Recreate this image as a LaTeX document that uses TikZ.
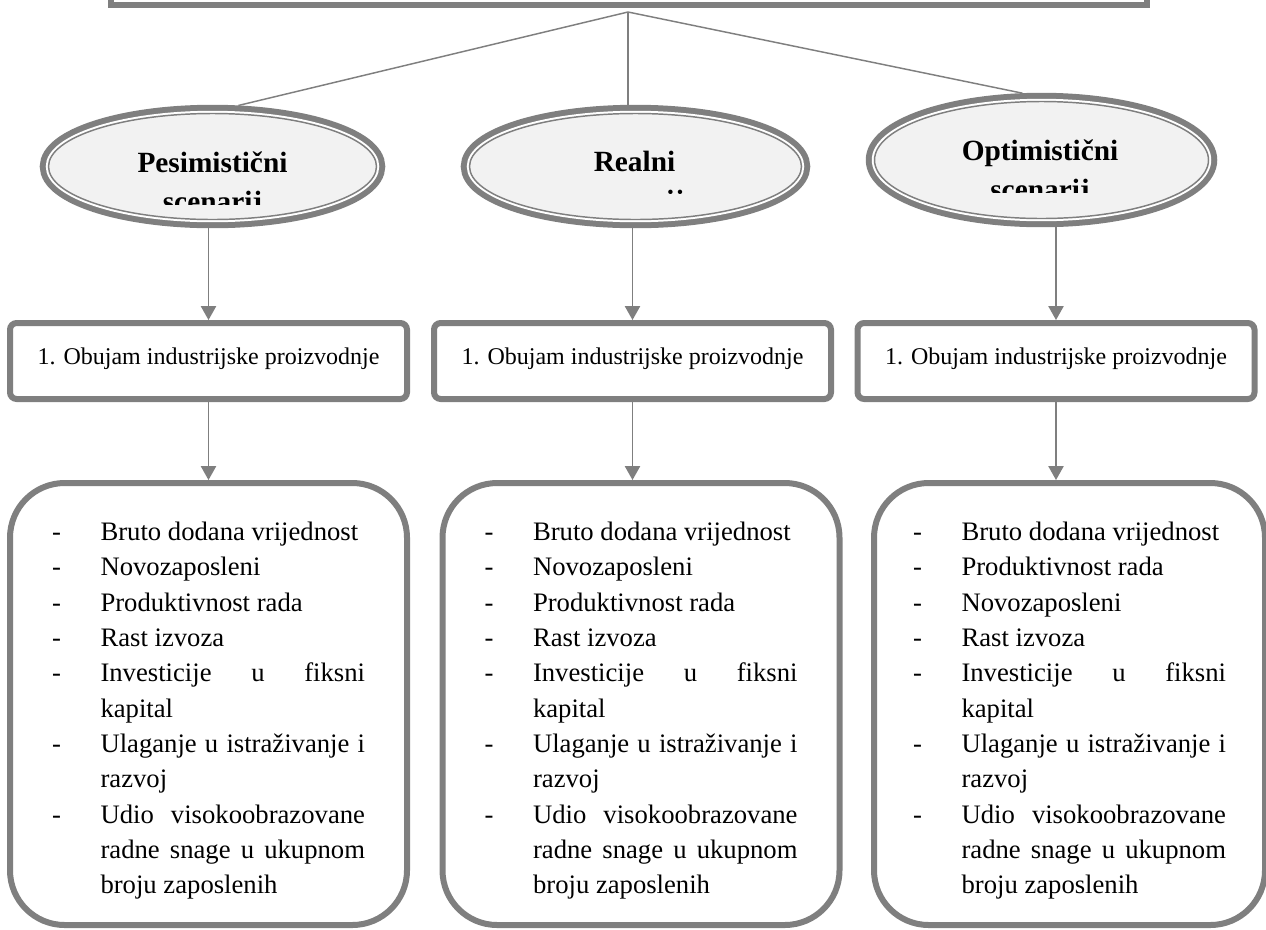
\documentclass[tikz,border=0pt]{standalone}
\usepackage{fontspec}
\setmainfont{Liberation Serif}
\usepackage{tikz}
\usetikzlibrary{positioning,arrows.meta,shapes.geometric}

\definecolor{sivo}{RGB}{127,127,127}
\definecolor{svsivo}{RGB}{242,242,242}

\newcommand{\stavka}[1]{\leftskip=36.4pt\hyphenpenalty=10000\exhyphenpenalty=10000\tolerance=10000\noindent\llap{\makebox[36.4pt][l]{-}}#1\par}

\tikzset{
  okvir/.style={draw=sivo, line width=1.1pt, inner sep=0pt, outer sep=6.55pt,
    preaction={draw=sivo, line width=13.1pt},
    preaction={draw=white, line width=4.1pt}},
  scen/.style={okvir, ellipse, fill=svsivo},
  scentxt/.style={anchor=base, align=center, inner sep=0pt,
    font=\bfseries\fontsize{22}{29.25}\selectfont},
  ind/.style={draw=sivo, line width=4.5pt, rounded corners=5pt, fill=white, inner sep=0pt,
    minimum width=297.75pt, minimum height=57pt, text height=12pt, text depth=7.5pt,
    font=\fontsize{18}{21.6}\selectfont},
  lst/.style={draw=sivo, line width=4.5pt, rounded corners=41pt, fill=white, inner sep=0pt,
    minimum width=297.75pt, minimum height=331.5pt, text width=234.75pt, align=justify,
    text height=24pt, font=\fontsize{20}{26.5}\selectfont},
  veza/.style={draw=sivo, line width=1.1pt},
  strel/.style={veza, -{Triangle[width=11.5pt,length=10.5pt]}},
}

\begin{document}
\begin{tikzpicture}[x=0.75pt,y=0.75pt,yscale=-1,xscale=1]
\path[use as bounding box, clip] (0,0) rectangle (1266,929);

%Shape: top box (cut off)
\node[okvir, rectangle, fill=white, minimum width=768.75pt, minimum height=89.6pt] (cilj) at (629,-60) {};
\coordinate (apex) at (628,12);

%Shape: scenario ellipses
\node[scen, minimum width=246pt, minimum height=79.5pt] (pes) at (212.5,166.5) {};
\node[scen, minimum width=249pt, minimum height=79.5pt] (real) at (635.5,166.5) {};
\node[scen, minimum width=250.5pt, minimum height=87.75pt] (opt) at (1041.5,160) {};

% Text Node (clipped by the ellipse text box)
\begin{scope}
  \clip (40,100) rectangle (385,204);
  \node[scentxt] (pesT) at (212.5,211.7) {Pesimistični\\scenarij};
\end{scope}
\begin{scope}
  \clip (461,100) rectangle (810,193.5);
  \node[scentxt] (realT) at (634.5,210) {Realni\\scenarij};
\end{scope}
\begin{scope}
  \clip (866,90) rectangle (1217,192);
  \node[scentxt] (optT) at (1040,199.7) {Optimistični\\scenarij};
\end{scope}

%Straight Lines from top box
\draw[veza] (apex) -- (pes.67.8);
\draw[veza] (apex) -- (apex |- real.north);
\draw[veza] (apex) -- (opt.106);

%Shape: indicator boxes
\node[ind] (pesInd) at (208.5,361) {1. Obujam industrijske proizvodnje};
\node[ind] (realInd) at (632.5,361) {1. Obujam industrijske proizvodnje};
\node[ind] (optInd) at (1056,361) {1. Obujam industrijske proizvodnje};

%Shape: lists
\node[lst] (pesLst) at (208.5,704) {%
  \stavka{Bruto dodana vrijednost}
  \stavka{Novozaposleni}
  \stavka{Produktivnost rada}
  \stavka{Rast izvoza}
  \stavka{Investicije u fiksni kapital}
  \stavka{Ulaganje u istraživanje i razvoj}
  \stavka{Udio visokoobrazovane radne snage u ukupnom broju zaposlenih}};
\node[lst] (realLst) at (641,704) {%
  \stavka{Bruto dodana vrijednost}
  \stavka{Novozaposleni}
  \stavka{Produktivnost rada}
  \stavka{Rast izvoza}
  \stavka{Investicije u fiksni kapital}
  \stavka{Ulaganje u istraživanje i razvoj}
  \stavka{Udio visokoobrazovane radne snage u ukupnom broju zaposlenih}};
\node[lst, minimum width=293.25pt] (optLst) at (1069.5,704) {%
  \stavka{Bruto dodana vrijednost}
  \stavka{Produktivnost rada}
  \stavka{Novozaposleni}
  \stavka{Rast izvoza}
  \stavka{Investicije u fiksni kapital}
  \stavka{Ulaganje u istraživanje i razvoj}
  \stavka{Udio visokoobrazovane radne snage u ukupnom broju zaposlenih}};

%Arrows
\draw[strel] (pesInd.north |- pes.south) -- (pesInd.north);
\draw[strel] (realInd.north |- real.south) -- (realInd.north);
\draw[strel] (optInd.north |- opt.south) -- (optInd.north);
\draw[strel] (pesInd.south) -- (pesInd.south |- pesLst.north);
\draw[strel] (realInd.south) -- (realInd.south |- realLst.north);
\draw[strel] (optInd.south) -- (optInd.south |- optLst.north);

\end{tikzpicture}
\end{document}
